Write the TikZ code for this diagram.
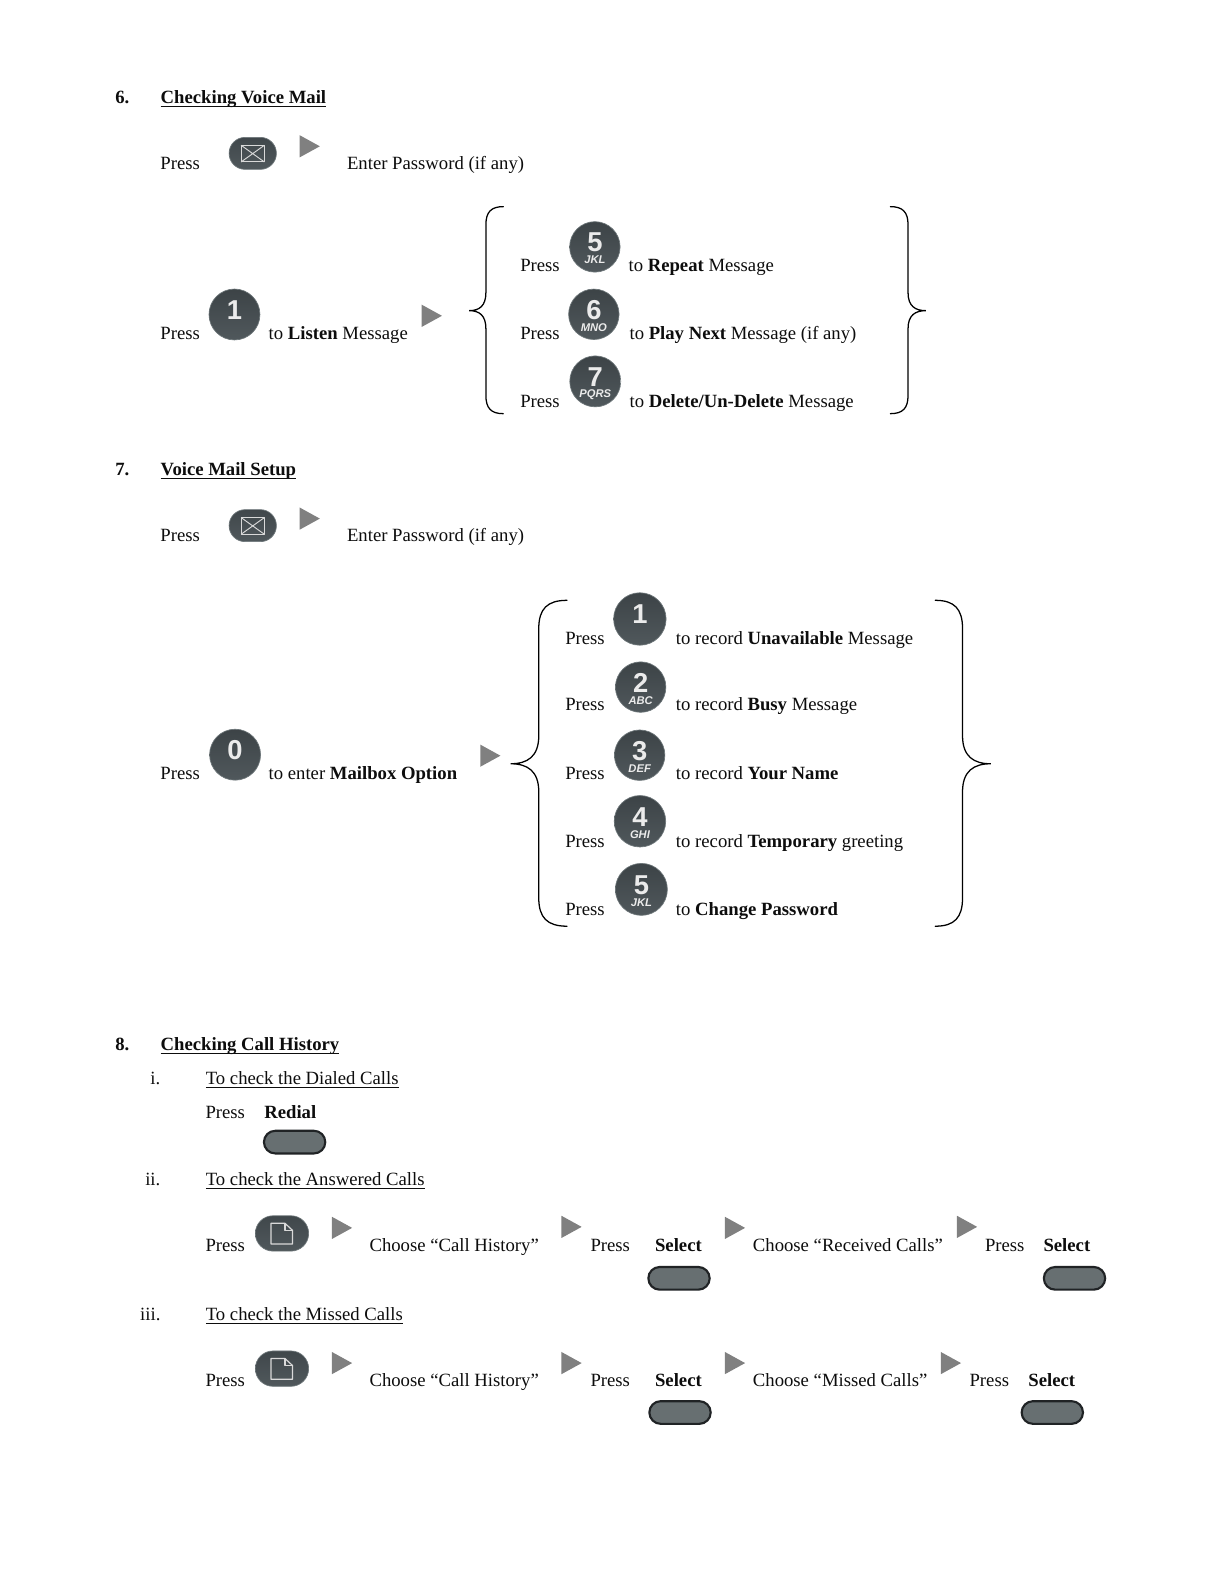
\documentclass[tikz,border=0pt]{standalone}
\usepackage{fontspec}
\setmainfont{Liberation Serif}
\newfontfamily\keyfont{Liberation Sans}
\newcommand\ulin[1]{\setbox0\hbox{#1}\rlap{\rule[-2.5pt]{\wd0}{0.75pt}}#1}
\definecolor{keytop}{HTML}{474F53}
\definecolor{keybot}{HTML}{50585C}
\definecolor{keyrim}{HTML}{6E777A}
\definecolor{softmid}{HTML}{676F71}
\definecolor{softrim}{HTML}{202325}
\definecolor{arrowgrey}{HTML}{808080}
\tikzset{
  lab/.style={anchor=base west,inner sep=0pt,outer sep=0pt,font=\fontsize{14.02}{16}\selectfont,text=black!95},
  keycap/.style={circle,inner sep=0pt,top color=keytop!85!black,bottom color=keybot,draw=keyrim,line width=0.5pt},
  digit/.style={inner sep=0pt,text=white!92!black,font=\keyfont\bfseries\fontsize{20.5}{20}\selectfont},
  letters/.style={inner sep=0pt,text=white!92!black,font=\keyfont\bfseries\itshape\fontsize{8.4}{9}\selectfont},
  softkey/.style={rounded rectangle,inner sep=0pt,minimum width=46pt,minimum height=17pt,fill=softmid,draw=softrim,line width=1.6pt},
  pill/.style={rounded rectangle,inner sep=0pt,top color=keytop!90!black,bottom color=keybot,draw=keyrim,line width=0.5pt},
  bracket/.style={draw=black,line width=0.95pt,line cap=round},
  icon/.style={draw=white!85!black,line width=0.7pt,line join=round},
  tip/.style={fill=arrowgrey},
}
\usetikzlibrary{shapes.misc}
\newcommand\txt[4]{\node[lab] (#1) at (#2,#3) {#4};}
\newcommand\keybtn[6]{%
  \node[keycap,minimum size=#4*0.7568pt] (#1) at (#2,#3) {};
  \node[digit] (#1-d) at (#1) [shift={(0,-4.5)}] {#5};
  \if\relax\detokenize{#6}\relax\else
  \node[letters] (#1-l) at (#1) [shift={(0,13)}] {#6};\fi}
\newcommand\tri[2]{\fill[tip] (#1,#2-11) -- (#1,#2+11) -- (#1+20,#2) -- cycle;}
\newcommand\softbtn[3]{\node[softkey] (#1) at (#2,#3) {};}
\newcommand\envbtn[3]{%
  \node[pill,minimum width=35.5pt,minimum height=24pt] (#1) at (#2,#3) {};
  \draw[icon] (#2-11.5,#3-8) rectangle (#2+11.5,#3+8.5);
  \draw[icon] (#2-11.5,#3-8) -- (#2+11.5,#3+8.5) (#2+11.5,#3-8) -- (#2-11.5,#3+8.5);}
\newcommand\docbtn[3]{%
  \node[pill,minimum width=40pt,minimum height=26.5pt] (#1) at (#2,#3) {};
  \draw[icon,line width=0.9pt] (#2-11,#3-10) -- (#2+3,#3-10) -- (#2+10.5,#3-3) -- (#2+10.5,#3+10.5) -- (#2-11,#3+10.5) -- cycle;
  \draw[icon,line width=0.9pt] (#2+3,#3-10) -- (#2+3,#3-3) -- (#2+10.5,#3-3);}
% args: end x, vertical x, tip x, top, mid, bottom, radius
\newcommand\curly[7]{%
  \draw[bracket] (#1,#4) .. controls (#2+0.3*#1-0.3*#2,#4) and (#2,#4+0.3*#7) .. (#2,#4+#7)
    -- (#2,#5-#7) .. controls (#2,#5-0.25*#7) and (0.6*#2+0.4*#3,#5) .. (#3,#5)
    .. controls (0.6*#2+0.4*#3,#5) and (#2,#5+0.25*#7) .. (#2,#5+#7)
    -- (#2,#6-#7) .. controls (#2,#6-0.3*#7) and (#2+0.3*#1-0.3*#2,#6) .. (#1,#6);}
\begin{document}
\begin{tikzpicture}[x=0.7568pt,y=-0.7568pt]
\useasboundingbox (0,0) rectangle (1208,1568);
\fill[white] (0,0) rectangle (1208,1568);
% ---- section 6
\txt{n6}{114.3}{103}{\textbf{6.}}
\txt{h6}{159.3}{103}{\textbf{\ulin{Checking Voice Mail}}}
\txt{p6a}{159}{167.7}{Press}
\envbtn{env6}{250.5}{152}
\tri{297}{145}
\txt{pw6}{344}{167.7}{Enter Password (if any)}
\txt{p6b}{159}{336}{Press}
\keybtn{k6one}{232.4}{311.7}{50.5}{1}{}
\txt{t6b}{266.3}{336}{to \textbf{Listen} Message}
\tri{418}{313}
\curly{498.8}{481.6}{465}{204.8}{307.9}{410}{18}
\txt{p6c}{515.7}{268.6}{Press}
\keybtn{k6five}{589.6}{244.7}{50}{5}{JKL}
\txt{t6c}{623}{268.6}{to \textbf{Repeat} Message}
\txt{p6d}{515.7}{336}{Press}
\keybtn{k6six}{588.6}{311.5}{50}{6}{MNO}
\txt{t6d}{624}{336}{to \textbf{Play Next} Message (if any)}
\txt{p6e}{515.7}{403.5}{Press}
\keybtn{k6seven}{590}{378}{50.5}{7}{PQRS}
\txt{t6e}{624}{403.5}{to \textbf{Delete/Un-Delete} Message}
\curly{882.5}{900}{917.7}{204.8}{307.9}{410}{18}
% ---- section 7
\txt{n7}{114.3}{471}{\textbf{7.}}
\txt{h7}{159.3}{471}{\textbf{\ulin{Voice Mail Setup}}}
\txt{p7a}{159}{536.7}{Press}
\envbtn{env7}{250.5}{521}
\tri{297}{514}
\txt{pw7}{344}{536.7}{Enter Password (if any)}
\txt{p7b}{159}{773}{Press}
\keybtn{k7zero}{233}{748}{50.5}{0}{}
\txt{t7b}{266.3}{773}{to enter \textbf{Mailbox Option}}
\tri{476}{749}
\curly{562}{534}{506}{595}{757}{918}{28}
\txt{p7c}{560.3}{639}{Press}
\keybtn{k7one}{634.2}{613.5}{52}{1}{}
\txt{t7c}{670}{639}{to record \textbf{Unavailable} Message}
\txt{p7d}{560.3}{704.3}{Press}
\keybtn{k7two}{635}{681}{50}{2}{ABC}
\txt{t7d}{670}{704.3}{to record \textbf{Busy} Message}
\txt{p7e}{560.3}{772.5}{Press}
\keybtn{k7three}{634}{748.5}{50}{3}{DEF}
\txt{t7e}{670}{772.5}{to record \textbf{Your Name}}
\txt{p7f}{560.3}{840}{Press}
\keybtn{k7four}{634.3}{814}{51}{4}{GHI}
\txt{t7f}{670}{840}{to record \textbf{Temporary} greeting}
\txt{p7g}{560.3}{907}{Press}
\keybtn{k7five}{635.7}{881.5}{51.5}{5}{JKL}
\txt{t7g}{670}{907}{to \textbf{Change Password}}
\curly{927}{954}{982}{595}{757}{918}{28}
% ---- section 8
\txt{n8}{114.3}{1041}{\textbf{8.}}
\txt{h8}{159.3}{1041}{\textbf{\ulin{Checking Call History}}}
\txt{r1}{149}{1075}{i.}
\txt{s1}{204}{1075}{\ulin{To check the Dialed Calls}}
\txt{p8a}{203.7}{1108.7}{Press}
\txt{redial}{262}{1108.7}{\textbf{Redial}}
\softbtn{sk1}{292}{1132}
\txt{r2}{144}{1175}{ii.}
\txt{s2}{204}{1175}{\ulin{To check the Answered Calls}}
\txt{p8b}{203.7}{1240}{Press}
\docbtn{doc1}{279.5}{1222.5}
\tri{329}{1217}
\txt{c1}{366.3}{1240}{Choose “Call History”}
\tri{556.5}{1216}
\txt{p8c}{585.3}{1240}{Press}
\txt{sel1}{649.3}{1240}{\textbf{Select}}
\softbtn{sk2}{673}{1267}
\tri{718.5}{1217}
\txt{c2}{746.3}{1240}{Choose “Received Calls”}
\tri{948.5}{1216}
\txt{p8d}{976.3}{1240}{Press}
\txt{sel2}{1034.3}{1240}{\textbf{Select}}
\softbtn{sk3}{1065}{1267}
\txt{r3}{139}{1309}{iii.}
\txt{s3}{204}{1309}{\ulin{To check the Missed Calls}}
\txt{p8e}{203.7}{1374}{Press}
\docbtn{doc2}{279.5}{1356.5}
\tri{329}{1351}
\txt{c3}{366.3}{1374}{Choose “Call History”}
\tri{556.5}{1351}
\txt{p8f}{585.3}{1374}{Press}
\txt{sel3}{649.3}{1374}{\textbf{Select}}
\softbtn{sk4}{674}{1400}
\tri{718.5}{1351}
\txt{c4}{746.3}{1374}{Choose “Missed Calls”}
\tri{932.5}{1351}
\txt{p8g}{961}{1374}{Press}
\txt{sel4}{1019.3}{1374}{\textbf{Select}}
\softbtn{sk5}{1043}{1400}
\end{tikzpicture}
\end{document}
